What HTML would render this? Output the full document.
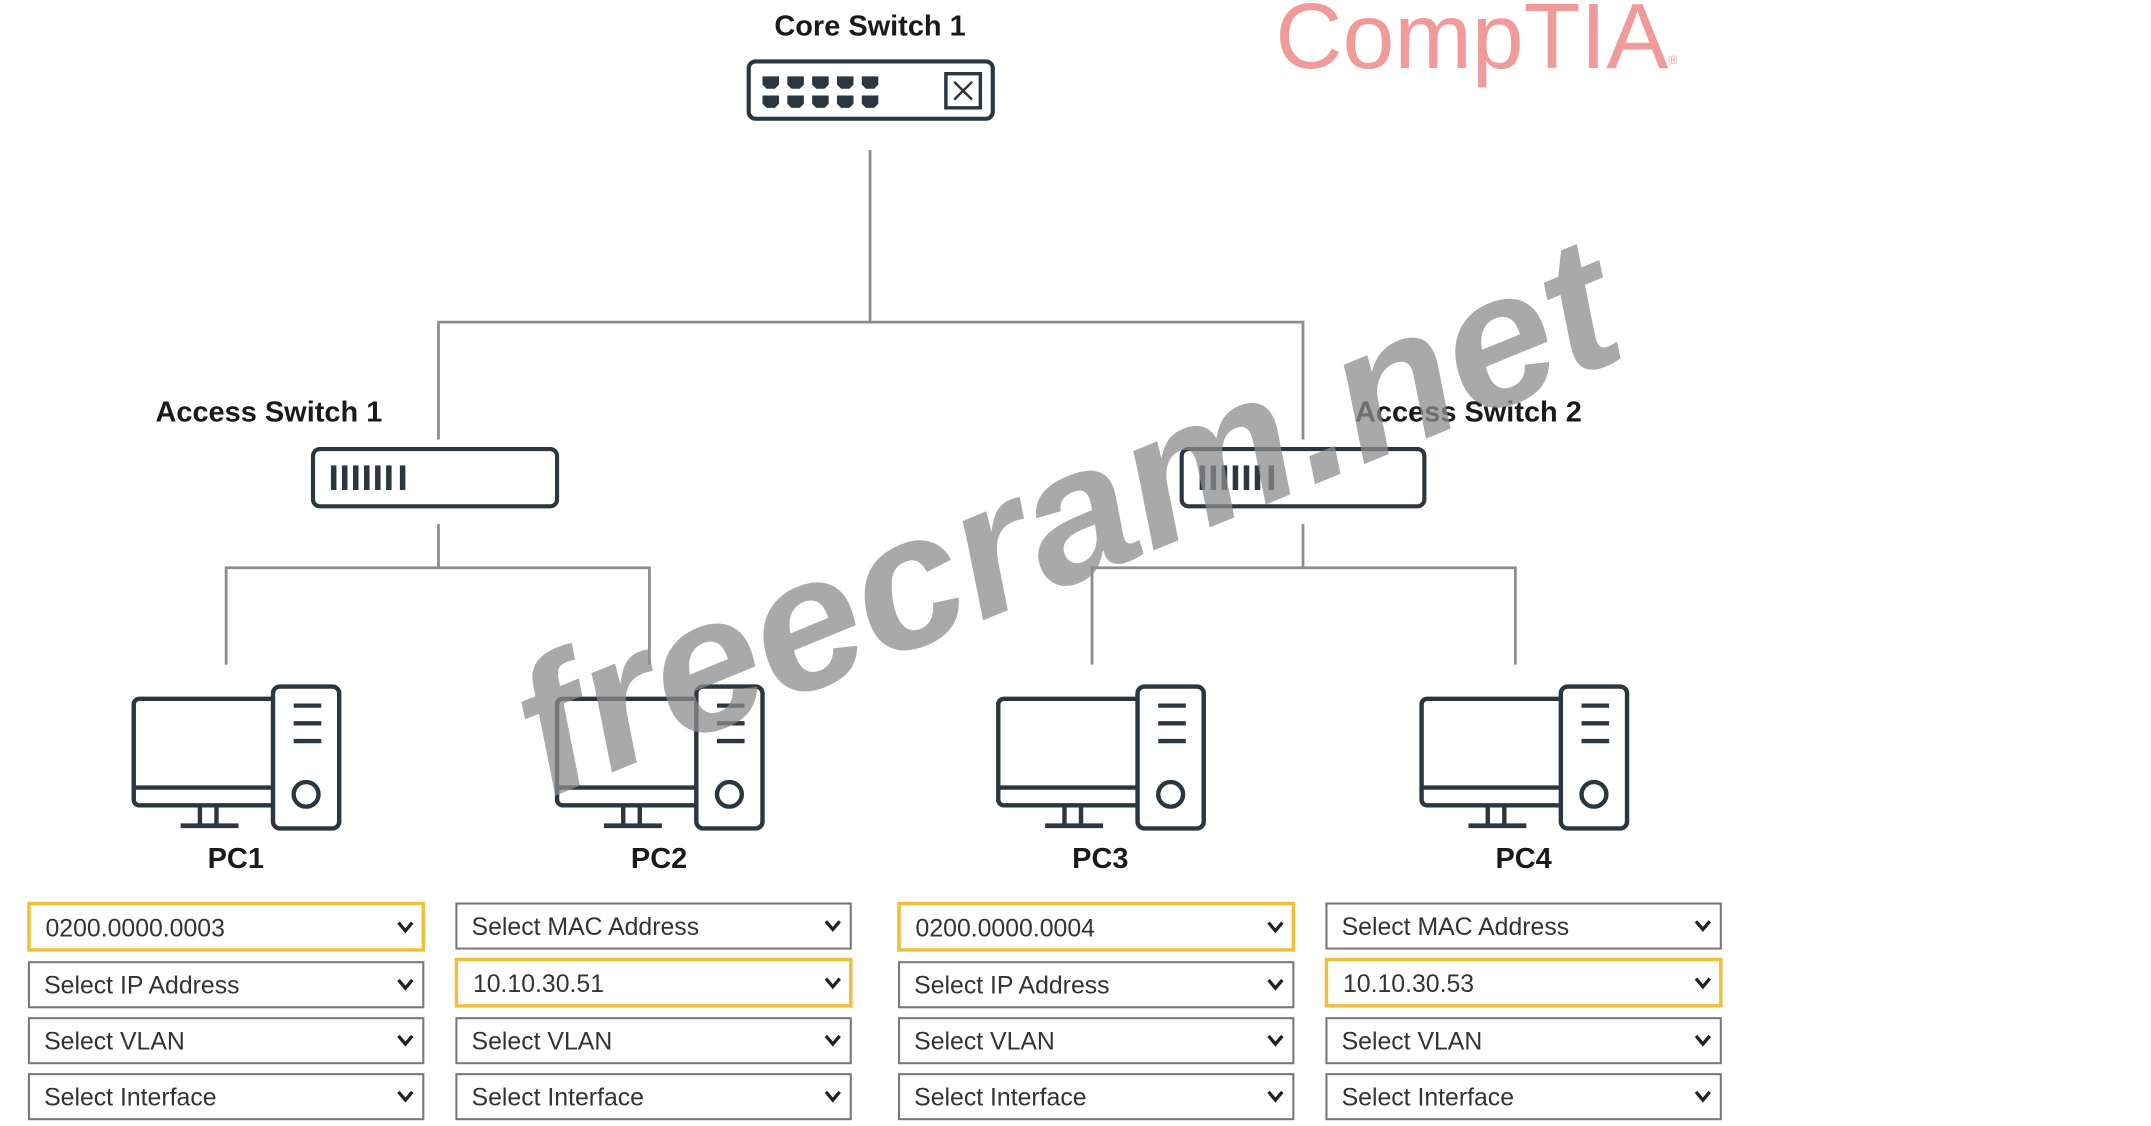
<!DOCTYPE html>
<html><head><meta charset="utf-8"><style>
html,body{margin:0;padding:0;background:#fff;}
svg{display:block;}
.lbl{font-family:"Liberation Sans Narrow","Liberation Sans",sans-serif;font-weight:bold;fill:#1a1a1a;}
.dd{font-family:"Liberation Sans Narrow","Liberation Sans",sans-serif;font-size:18px;fill:#333;}
</style></head><body>
<svg width="2151" height="1126" viewBox="0 0 1560 825" preserveAspectRatio="none" xmlns="http://www.w3.org/2000/svg">
<defs>
<g id="pc" fill="none" stroke="#2b3640" stroke-width="3.2">
  <rect x="-74" y="512" width="109" height="78" rx="4"/>
  <line x1="-74" y1="577" x2="30" y2="577"/>
  <line x1="-26" y1="590" x2="-26" y2="604"/>
  <line x1="-14" y1="590" x2="-14" y2="604"/>
  <line x1="-40" y1="605" x2="2" y2="605" stroke-width="3.5"/>
  <rect x="27" y="503" width="48" height="104" rx="5" fill="#fff"/>
  <line x1="42" y1="517" x2="62" y2="517"/>
  <line x1="42" y1="530" x2="62" y2="530"/>
  <line x1="42" y1="543" x2="62" y2="543"/>
  <circle cx="51" cy="582" r="9"/>
</g>
<g id="chev"><path d="M-5,-3 L0,3 L5,-3" fill="none" stroke="#222" stroke-width="2.4"/></g>
</defs>

<!-- connectors -->
<g stroke="#8a8d90" stroke-width="2" fill="none">
<line x1="631" y1="110" x2="631" y2="236"/>
<polyline points="318,322 318,236 945,236 945,322"/>
<line x1="318" y1="384" x2="318" y2="416"/>
<polyline points="164,487 164,416 471,416 471,487"/>
<line x1="945" y1="384" x2="945" y2="416"/>
<polyline points="792,487 792,416 1099,416 1099,487"/>
</g>

<!-- core switch -->
<text class="lbl" x="631" y="26" font-size="21" text-anchor="middle">Core Switch 1</text>
<rect x="543" y="45" width="177" height="42" rx="5" fill="#fff" stroke="#2b3640" stroke-width="3"/>
<g fill="#2b3640">
<path d="M553,56h12v6l-3,3h-6l-3,-3z"/><path d="M571,56h12v6l-3,3h-6l-3,-3z"/><path d="M589,56h12v6l-3,3h-6l-3,-3z"/><path d="M607,56h12v6l-3,3h-6l-3,-3z"/><path d="M625,56h12v6l-3,3h-6l-3,-3z"/>
<path d="M553,70h12v6l-3,3h-6l-3,-3z"/><path d="M571,70h12v6l-3,3h-6l-3,-3z"/><path d="M589,70h12v6l-3,3h-6l-3,-3z"/><path d="M607,70h12v6l-3,3h-6l-3,-3z"/><path d="M625,70h12v6l-3,3h-6l-3,-3z"/>
</g>
<rect x="686" y="54" width="25" height="25" fill="none" stroke="#2b3640" stroke-width="2.5"/>
<path d="M692,60 L705,73 M705,60 L692,73" stroke="#2b3640" stroke-width="1.8"/>

<!-- access switches -->
<text class="lbl" x="195" y="309" font-size="21" text-anchor="middle">Access Switch 1</text>
<rect x="227" y="329" width="177" height="42" rx="5" fill="#fff" stroke="#2b3640" stroke-width="3"/>
<g stroke="#2b3640" stroke-width="4">
<line x1="242" y1="341" x2="242" y2="359"/><line x1="250" y1="341" x2="250" y2="359"/><line x1="258" y1="341" x2="258" y2="359"/><line x1="266" y1="341" x2="266" y2="359"/><line x1="274" y1="341" x2="274" y2="359"/><line x1="282" y1="341" x2="282" y2="359"/><line x1="292" y1="341" x2="292" y2="359"/>
</g>
<text class="lbl" x="1065" y="309" font-size="21" text-anchor="middle">Access Switch 2</text>
<rect x="857" y="329" width="176" height="42" rx="5" fill="#fff" stroke="#2b3640" stroke-width="3"/>
<g stroke="#2b3640" stroke-width="4">
<line x1="872" y1="341" x2="872" y2="359"/><line x1="880" y1="341" x2="880" y2="359"/><line x1="888" y1="341" x2="888" y2="359"/><line x1="896" y1="341" x2="896" y2="359"/><line x1="904" y1="341" x2="904" y2="359"/><line x1="912" y1="341" x2="912" y2="359"/><line x1="922" y1="341" x2="922" y2="359"/>
</g>

<!-- PCs -->
<use href="#pc" transform="translate(171,0)"/>
<use href="#pc" transform="translate(478,0)"/>
<use href="#pc" transform="translate(798,0)"/>
<use href="#pc" transform="translate(1105,0)"/>
<text class="lbl" x="171" y="636" font-size="21" text-anchor="middle">PC1</text>
<text class="lbl" x="478" y="636" font-size="21" text-anchor="middle">PC2</text>
<text class="lbl" x="798" y="636" font-size="21" text-anchor="middle">PC3</text>
<text class="lbl" x="1105" y="636" font-size="21" text-anchor="middle">PC4</text>

<!-- dropdowns -->
<g fill="#fff" stroke="#777" stroke-width="1.5">
<rect x="21" y="662" width="286" height="34" stroke="#f2bd3a" stroke-width="2.5"/>
<rect x="21" y="705" width="286" height="33"/>
<rect x="21" y="746" width="286" height="33"/>
<rect x="21" y="787" width="286" height="33"/>
<rect x="331" y="662" width="286" height="33"/>
<rect x="331" y="703" width="286" height="34" stroke="#f2bd3a" stroke-width="2.5"/>
<rect x="331" y="746" width="286" height="33"/>
<rect x="331" y="787" width="286" height="33"/>
<rect x="652" y="662" width="286" height="34" stroke="#f2bd3a" stroke-width="2.5"/>
<rect x="652" y="705" width="286" height="33"/>
<rect x="652" y="746" width="286" height="33"/>
<rect x="652" y="787" width="286" height="33"/>
<rect x="962" y="662" width="286" height="33"/>
<rect x="962" y="703" width="286" height="34" stroke="#f2bd3a" stroke-width="2.5"/>
<rect x="962" y="746" width="286" height="33"/>
<rect x="962" y="787" width="286" height="33"/>
</g>
<g class="dd">
<text x="33" y="686">0200.0000.0003</text>
<text x="32" y="728">Select IP Address</text>
<text x="32" y="769">Select VLAN</text>
<text x="32" y="810">Select Interface</text>
<text x="342" y="685">Select MAC Address</text>
<text x="343" y="727">10.10.30.51</text>
<text x="342" y="769">Select VLAN</text>
<text x="342" y="810">Select Interface</text>
<text x="664" y="686">0200.0000.0004</text>
<text x="663" y="728">Select IP Address</text>
<text x="663" y="769">Select VLAN</text>
<text x="663" y="810">Select Interface</text>
<text x="973" y="685">Select MAC Address</text>
<text x="974" y="727">10.10.30.53</text>
<text x="973" y="769">Select VLAN</text>
<text x="973" y="810">Select Interface</text>
</g>
<g>
<use href="#chev" transform="translate(294,679)"/><use href="#chev" transform="translate(294,721)"/><use href="#chev" transform="translate(294,762)"/><use href="#chev" transform="translate(294,803)"/>
<use href="#chev" transform="translate(604,678)"/><use href="#chev" transform="translate(604,720)"/><use href="#chev" transform="translate(604,762)"/><use href="#chev" transform="translate(604,803)"/>
<use href="#chev" transform="translate(925,679)"/><use href="#chev" transform="translate(925,721)"/><use href="#chev" transform="translate(925,762)"/><use href="#chev" transform="translate(925,803)"/>
<use href="#chev" transform="translate(1235,678)"/><use href="#chev" transform="translate(1235,720)"/><use href="#chev" transform="translate(1235,762)"/><use href="#chev" transform="translate(1235,803)"/>
</g>

<!-- CompTIA logo -->
<text x="925" y="50" font-family="'Liberation Sans',sans-serif" font-size="68" fill="#f09a9a" textLength="285" lengthAdjust="spacingAndGlyphs">CompTIA</text>
<text x="1210" y="47" font-family="'Liberation Sans',sans-serif" font-size="9" fill="#f09a9a">®</text>

<!-- watermark -->
<text x="0" y="0" transform="translate(398,585) rotate(-22.5)" font-family="'Liberation Sans',sans-serif" font-weight="bold" font-style="italic" font-size="138" fill="#8c8c8c" fill-opacity="0.75" textLength="850" lengthAdjust="spacingAndGlyphs">freecram.net</text>
</svg>
</body></html>
